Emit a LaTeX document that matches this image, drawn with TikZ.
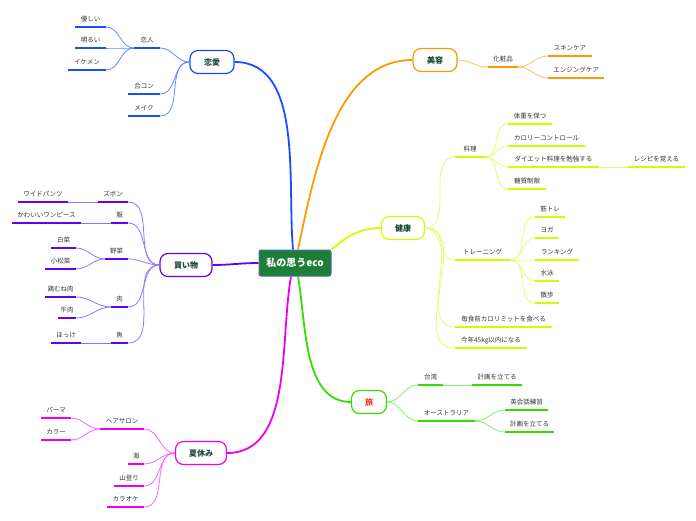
\documentclass[tikz,border=0pt]{standalone}
\usepackage{fontspec}
\setmainfont{Noto Sans CJK JP}
\newcommand\leaffont{\fontsize{6.5}{7}\selectfont}
\newcommand\mnfont{\fontsize{8}{9}\selectfont\bfseries}
\definecolor{cb}{RGB}{26,77,255}
\definecolor{cbl}{RGB}{100,135,255}
\definecolor{cp}{RGB}{102,0,238}
\definecolor{cpl}{RGB}{150,115,255}
\definecolor{cm}{RGB}{238,0,238}
\definecolor{cml}{RGB}{255,100,255}
\definecolor{co}{RGB}{255,153,0}
\definecolor{col}{RGB}{255,190,110}
\definecolor{cy}{RGB}{204,255,0}
\definecolor{cyl}{RGB}{222,255,110}
\definecolor{cg}{RGB}{51,221,0}
\definecolor{cgl}{RGB}{140,238,110}
\definecolor{mtxt}{RGB}{25,70,55}
\definecolor{cfill}{RGB}{30,125,55}
\definecolor{cbord}{RGB}{60,120,170}
\tikzset{
  leaf/.style={inner sep=0pt, text height=6pt, text depth=5.5pt, anchor=south, font=\leaffont, text=black!80},
  lu/.style={leaf, append after command={(\tikzlastnode.south west) edge[draw=#1, line width=1.5pt] (\tikzlastnode.south east)}},
  mainnode/.style={draw=#1, line width=1.2pt, rounded corners=8pt, fill=white, minimum height=23pt, font=\mnfont, text=mtxt},
  cn/.style={draw=#1, line width=0.8pt},
  mc/.style={draw=#1, line width=1.8pt},
}
\begin{document}
\begin{tikzpicture}[x=1pt,y=-1pt]
\useasboundingbox (0,0) rectangle (696,520);
% central
\node[draw=cbord, fill=cfill, line width=1pt, rounded corners=2pt, minimum width=72pt, minimum height=26pt, text=white, font=\fontsize{10}{11}\selectfont\bfseries] (c) at (295,263) {私の思うeco};
% main nodes
\node[mainnode=cb, minimum width=44pt] (love) at (212,62) {恋愛};
\node[mainnode=co, minimum width=44pt] (beauty) at (435,60) {美容};
\node[mainnode=cy, minimum width=43pt] (health) at (403,228) {健康};
\node[mainnode=cg, minimum width=35pt, text=red!85] (trip) at (369,402) {旅};
\node[mainnode=cm, minimum width=51pt] (summer) at (201,453) {夏休み};
\node[mainnode=cp, minimum width=52pt] (shop) at (186,265) {買い物};
% main connectors
\draw[mc=cb] ([xshift=-2pt]c.north) to[out=95,in=0,looseness=0.9] (love.east);
\draw[mc=co] ([xshift=3pt]c.north) to[out=78,in=180,looseness=0.9] (beauty.west);
\draw[mc=cy] (c.north east) to[out=40,in=180] (health.west);
\draw[mc=cg] ([xshift=3pt]c.south) to[out=-80,in=180,looseness=0.9] (trip.west);
\draw[mc=cm] ([xshift=-4pt]c.south) to[out=-100,in=0,looseness=0.9] (summer.east);
\draw[mc=cp] (c.west) to[out=180,in=0] (shop.east);
% love
\node[lu=cb, minimum width=26] (koibito) at (147,48) {恋人};
\node[lu=cb, minimum width=31] (yasashii) at (90.5,27) {優しい};
\node[lu=cb, minimum width=31] (akarui) at (90.5,48) {明るい};
\node[lu=cb, minimum width=38] (ikemen) at (87,70) {イケメン};
\node[lu=cb, minimum width=32] (goukon) at (144,94) {合コン};
\node[lu=cb, minimum width=32] (meiku) at (144,116) {メイク};
\foreach \n in {koibito,goukon,meiku} \draw[cn=cbl] (love.west) to[out=180,in=0] (\n.south east);
\foreach \n in {yasashii,akarui,ikemen} \draw[cn=cbl] (koibito.south west) to[out=180,in=0] (\n.south east);
% shopping
\node[lu=cp, minimum width=30] (zubon) at (113,202) {ズボン};
\node[lu=cp, minimum width=50] (wide) at (43,202) {ワイドパンツ};
\node[lu=cp, minimum width=17] (fuku) at (119.5,223) {服};
\node[lu=cp, minimum width=69] (onepiece) at (46.5,223) {かわいいワンピース};
\node[lu=cp, minimum width=23] (yasai) at (116.5,259) {野菜};
\node[lu=cp, minimum width=25] (hakusai) at (63.5,248) {白菜};
\node[lu=cp, minimum width=31] (komatsuna) at (60.5,269) {小松菜};
\node[lu=cp, minimum width=17] (niku) at (119.5,307) {肉};
\node[lu=cp, minimum width=31] (torimune) at (60.5,297) {鶏むね肉};
\node[lu=cp, minimum width=18] (gyuniku) at (67,318) {牛肉};
\node[lu=cp, minimum width=17] (sakana) at (119.5,343) {魚};
\node[lu=cp, minimum width=30] (hokke) at (66,343) {ほっけ};
\foreach \n in {zubon,fuku,yasai,niku,sakana} \draw[cn=cpl] (shop.west) to[out=180,in=0] (\n.south east);
\draw[cn=cpl] (zubon.south west) -- (wide.south east);
\draw[cn=cpl] (fuku.south west) -- (onepiece.south east);
\draw[cn=cpl] (sakana.south west) -- (hokke.south east);
\foreach \n in {hakusai,komatsuna} \draw[cn=cpl] (yasai.south west) to[out=180,in=0] (\n.south east);
\foreach \n in {torimune,gyuniku} \draw[cn=cpl] (niku.south west) to[out=180,in=0] (\n.south east);
% summer
\node[lu=cm, minimum width=44] (hair) at (122,429) {ヘアサロン};
\node[lu=cm, minimum width=30] (perm) at (56,418) {パーマ};
\node[lu=cm, minimum width=30] (color) at (56,440) {カラー};
\node[lu=cm, minimum width=16] (umi) at (136,464) {海};
\node[lu=cm, minimum width=30] (yama) at (129,486) {山登り};
\node[lu=cm, minimum width=37] (karaoke) at (125.5,507) {カラオケ};
\foreach \n in {hair,umi,yama,karaoke} \draw[cn=cml] (summer.west) to[out=180,in=0] (\n.south east);
\foreach \n in {perm,color} \draw[cn=cml] (hair.south west) to[out=180,in=0] (\n.south east);
% beauty
\node[lu=co, minimum width=30] (kesho) at (503,67) {化粧品};
\node[lu=co, minimum width=44] (skin) at (570,56) {スキンケア};
\node[lu=co, minimum width=56] (aging) at (576,78) {エンジングケア};
\draw[cn=col] (beauty.east) to[out=0,in=180] (kesho.south west);
\foreach \n in {skin,aging} \draw[cn=col] (kesho.south east) to[out=0,in=180] (\n.south west);
% health
\node[lu=cy, minimum width=30] (ryori) at (470,157) {料理};
\node[lu=cy, minimum width=44] (taiju) at (530,124) {体重を保つ};
\node[lu=cy, minimum width=77] (calorie) at (546.5,146) {カロリーコントロール};
\node[lu=cy, minimum width=91] (diet) at (553.5,167) {ダイエット料理を勉強する};
\node[lu=cy, minimum width=57] (recipe) at (656.5,167) {レシピを覚える};
\node[lu=cy, minimum width=38] (toshitsu) at (527,189) {糖質制限};
\node[lu=cy, minimum width=55] (training) at (482.5,260) {トレーニング};
\node[lu=cy, minimum width=30] (kintore) at (550,217) {筋トレ};
\node[lu=cy, minimum width=24] (yoga) at (547,238) {ヨガ};
\node[lu=cy, minimum width=44] (running) at (557,260) {ランキング};
\node[lu=cy, minimum width=24] (suiei) at (547,281) {水泳};
\node[lu=cy, minimum width=24] (sanpo) at (547,303) {散歩};
\node[lu=cy, minimum width=97] (maishoku) at (503.5,327) {毎食前カロリミットを食べる};
\node[lu=cy, minimum width=72] (kotoshi) at (491,348) {今年45kg以内になる};
\foreach \n in {ryori,training,maishoku,kotoshi} \draw[cn=cyl] (health.east) to[out=0,in=180] (\n.south west);
\foreach \n in {taiju,calorie,diet,toshitsu} \draw[cn=cyl] (ryori.south east) to[out=0,in=180] (\n.south west);
\draw[cn=cyl] (diet.south east) -- (recipe.south west);
\foreach \n in {kintore,yoga,running,suiei,sanpo} \draw[cn=cyl] (training.south east) to[out=0,in=180] (\n.south west);
% trip
\node[lu=cg, minimum width=25] (taiwan) at (430.5,385) {台湾};
\node[lu=cg, minimum width=50] (keikaku1) at (497,385) {計画を立てる};
\node[lu=cg, minimum width=57] (aus) at (446.5,421) {オーストラリア};
\node[lu=cg, minimum width=43] (eikaiwa) at (526.5,410) {英会話練習};
\node[lu=cg, minimum width=49] (keikaku2) at (529.5,432) {計画を立てる};
\foreach \n in {taiwan,aus} \draw[cn=cgl] (trip.east) to[out=0,in=180] (\n.south west);
\draw[cn=cgl] (taiwan.south east) -- (keikaku1.south west);
\foreach \n in {eikaiwa,keikaku2} \draw[cn=cgl] (aus.south east) to[out=0,in=180] (\n.south west);
\end{tikzpicture}
\end{document}
